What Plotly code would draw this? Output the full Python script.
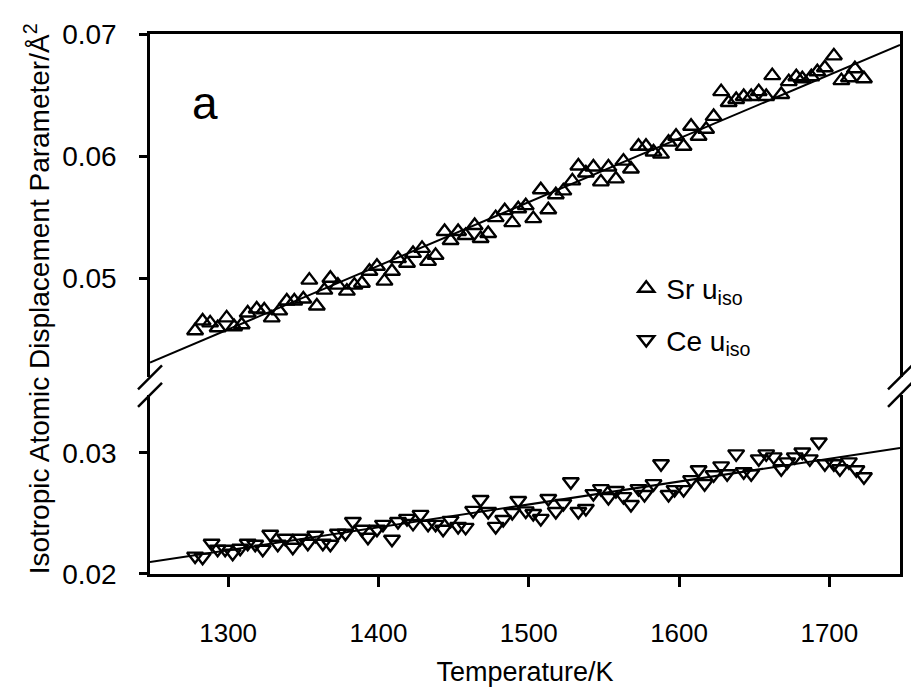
import plotly.graph_objects as go

# ---------------- data ----------------
temps_sr = [1278, 1283, 1288, 1293, 1299, 1304, 1309, 1313, 1319, 1324,
            1329, 1334, 1339, 1344, 1350, 1354, 1359, 1364, 1368, 1373,
            1379, 1384, 1389, 1394, 1399, 1404, 1409, 1413, 1419, 1423,
            1429, 1433, 1438, 1444, 1448, 1453, 1458, 1464, 1468, 1473,
            1478, 1484, 1489, 1493, 1498, 1503, 1508, 1513, 1518, 1523,
            1529, 1533, 1538, 1543, 1548, 1553, 1558, 1563, 1568, 1573,
            1578, 1583, 1588, 1593, 1598, 1603, 1608, 1613, 1618, 1623,
            1628, 1633, 1638, 1643, 1648, 1653, 1658, 1662, 1668, 1673,
            1678, 1682, 1688, 1692, 1697, 1703, 1708, 1713, 1717, 1723]
sr_uiso = [0.04569, 0.04650, 0.04634, 0.04594, 0.04675, 0.04602, 0.04618, 0.04715, 0.04748, 0.04740,
           0.04675, 0.04732, 0.04813, 0.04813, 0.04829, 0.04984, 0.04772, 0.04902, 0.05000, 0.04943,
           0.04894, 0.04943, 0.04959, 0.05057, 0.05098, 0.04976, 0.05057, 0.05160, 0.05122, 0.05203,
           0.05244, 0.05138, 0.05187, 0.05382, 0.05309, 0.05382, 0.05350, 0.05431, 0.05325, 0.05366,
           0.05496, 0.05553, 0.05455, 0.05569, 0.05594, 0.05488, 0.05724, 0.05561, 0.05683, 0.05715,
           0.05797, 0.05919, 0.05862, 0.05911, 0.05789, 0.05911, 0.05813, 0.05959, 0.05894, 0.06081,
           0.06081, 0.06033, 0.06016, 0.06114, 0.06163, 0.06081, 0.06244, 0.06163, 0.06220, 0.06325,
           0.06528, 0.06439, 0.06463, 0.06488, 0.06488, 0.06528, 0.06488, 0.06659, 0.06504, 0.06610,
           0.06650, 0.06634, 0.06650, 0.06691, 0.06724, 0.06821, 0.06618, 0.06642, 0.06715, 0.06634]

temps_ce = [1278, 1283, 1289, 1293, 1298, 1303, 1308, 1313, 1318, 1323,
            1328, 1333, 1338, 1343, 1348, 1353, 1358, 1363, 1368, 1373,
            1378, 1383, 1389, 1393, 1399, 1403, 1409, 1413, 1419, 1423,
            1428, 1433, 1438, 1443, 1448, 1453, 1458, 1463, 1468, 1473,
            1478, 1483, 1489, 1493, 1498, 1503, 1508, 1513, 1518, 1523,
            1528, 1533, 1538, 1543, 1548, 1553, 1558, 1563, 1568, 1573,
            1577, 1583, 1588, 1593, 1597, 1603, 1608, 1613, 1617, 1623,
            1628, 1632, 1638, 1643, 1648, 1653, 1658, 1663, 1668, 1672,
            1677, 1682, 1687, 1693, 1697, 1703, 1707, 1713, 1718, 1723]
ce_uiso = [0.02148, 0.02139, 0.02254, 0.02205, 0.02205, 0.02172, 0.02213, 0.02254, 0.02246, 0.02205,
           0.02328, 0.02246, 0.02295, 0.02221, 0.02295, 0.02254, 0.02320, 0.02254, 0.02246, 0.02336,
           0.02336, 0.02434, 0.02369, 0.02303, 0.02369, 0.02410, 0.02287, 0.02434, 0.02459, 0.02418,
           0.02492, 0.02410, 0.02410, 0.02369, 0.02443, 0.02393, 0.02385, 0.02525, 0.02615, 0.02516,
           0.02393, 0.02450, 0.02508, 0.02607, 0.02521, 0.02500, 0.02459, 0.02623, 0.02516, 0.02582,
           0.02762, 0.02516, 0.02541, 0.02664, 0.02705, 0.02631, 0.02689, 0.02639, 0.02574, 0.02705,
           0.02656, 0.02746, 0.02910, 0.02656, 0.02697, 0.02697, 0.02779, 0.02861, 0.02746, 0.02820,
           0.02893, 0.02828, 0.02992, 0.02844, 0.02828, 0.02951, 0.02992, 0.02967, 0.02869, 0.02926,
           0.02967, 0.03008, 0.02951, 0.03090, 0.02910, 0.02910, 0.02869, 0.02926, 0.02861, 0.02803]

fit_temps = [1248, 1747]
sr_fit = [0.04309, 0.06911]
ce_fit = [0.02098, 0.03041]

x_ticks = [1300, 1400, 1500, 1600, 1700]
upper_ticks = [0.05, 0.06, 0.07]
lower_ticks = [0.02, 0.03]

# ---------------- figure ----------------
FONT = "Liberation Sans, Arial, sans-serif"
W, H = 911, 691
ML, MR, MT, MB = 150, 8, 34, 113
LOWER_TOP = 0.3318
UPPER_BOT = 0.364

fig = go.Figure()

fig.add_trace(go.Scatter(x=fit_temps, y=sr_fit, mode="lines",
                         line=dict(color="black", width=2),
                         xaxis="x2", yaxis="y2", showlegend=False, cliponaxis=False))
fig.add_trace(go.Scatter(x=temps_sr, y=sr_uiso, mode="markers", name="Sr u<sub>iso</sub>",
                         legendgroup="sr",
                         marker=dict(symbol="triangle-up-open", size=14, color="black",
                                     line=dict(color="black", width=2.4)),
                         xaxis="x2", yaxis="y2"))
fig.add_trace(go.Scatter(x=fit_temps, y=ce_fit, mode="lines",
                         line=dict(color="black", width=2),
                         xaxis="x", yaxis="y", showlegend=False, cliponaxis=False))
fig.add_trace(go.Scatter(x=temps_ce, y=ce_uiso, mode="markers", name="Ce u<sub>iso</sub>",
                         legendgroup="ce",
                         marker=dict(symbol="triangle-down-open", size=14, color="black",
                                     line=dict(color="black", width=2.4)),
                         xaxis="x", yaxis="y"))

axis_common = dict(showgrid=False, zeroline=False, showline=True, linecolor="black",
                   linewidth=2.5, tickcolor="black", tickwidth=2.5)

fig.update_layout(
    width=W, height=H,
    margin=dict(l=ML, r=MR, t=MT, b=MB),
    paper_bgcolor="white", plot_bgcolor="white",
    font=dict(family=FONT, color="black"),
    xaxis=dict(domain=[0, 1], range=[1248, 1747], anchor="y",
               tickmode="array", tickvals=x_ticks, ticks="outside", ticklen=10,
               ticklabelstandoff=24,
               tickfont=dict(family=FONT, size=26, color="black"),
               title=dict(text="Temperature/K", font=dict(family=FONT, size=27, color="black"),
                          standoff=16),
               **axis_common),
    xaxis2=dict(domain=[0, 1], range=[1248, 1747], anchor="y2", matches="x", side="top",
                showticklabels=False, ticks="", **axis_common),
    yaxis=dict(domain=[0, LOWER_TOP], range=[0.02, 0.034795], anchor="x",
               tickmode="array", tickvals=lower_ticks, ticks="outside", ticklen=8,
               ticklabelstandoff=17, mirror=True,
               tickfont=dict(family=FONT, size=28, color="black"), **axis_common),
    yaxis2=dict(domain=[UPPER_BOT, 1], range=[0.04187, 0.07], anchor="x2",
                tickmode="array", tickvals=upper_ticks, ticks="outside", ticklen=8,
                ticklabelstandoff=17, mirror=True,
                tickfont=dict(family=FONT, size=28, color="black"), **axis_common),
    legend=dict(x=0.635, y=0.575, xanchor="left", yanchor="top",
                font=dict(family=FONT, size=28, color="black"),
                bgcolor="rgba(0,0,0,0)", tracegroupgap=12, itemwidth=30),
    annotations=[
        dict(text="Isotropic Atomic Displacement Parameter/Å<sup>2</sup>",
             xref="paper", yref="paper", x=-0.151, y=0.51, xanchor="center", yanchor="middle",
             textangle=-90, showarrow=False, font=dict(family=FONT, size=28, color="black")),
        dict(text="a", xref="paper", yref="paper", x=0.073, y=0.872,
             xanchor="center", yanchor="middle", showarrow=False,
             font=dict(family=FONT, size=46, color="black")),
    ],
)

# axis-break slashes (decorative), centred on the panel edges at both sides
shapes = []
for xa in (0, 1):
    for ya in (UPPER_BOT, LOWER_TOP):
        shapes.append(dict(type="line", xref="paper", yref="paper",
                           xsizemode="pixel", ysizemode="pixel",
                           xanchor=xa, yanchor=ya, x0=-12, x1=12, y0=-12, y1=12,
                           line=dict(color="black", width=2.5)))
fig.update_layout(shapes=shapes)

fig.write_html("out.html")
